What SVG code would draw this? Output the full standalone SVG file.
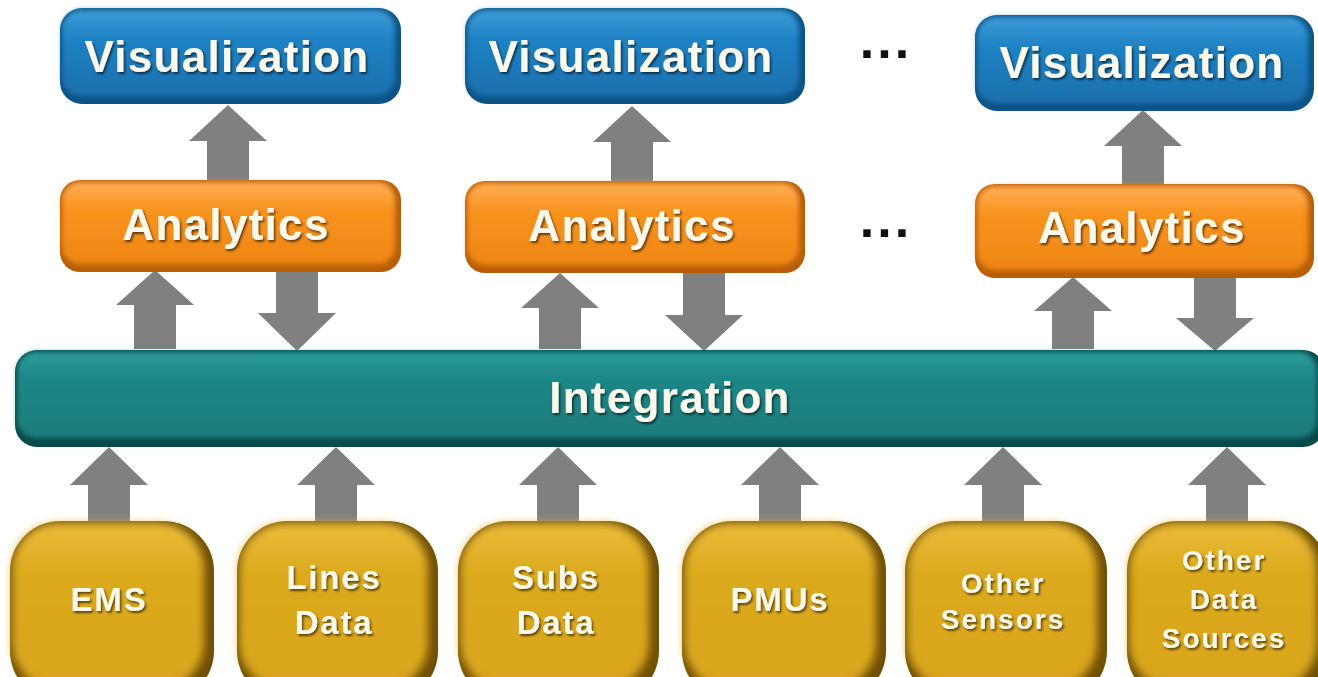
<svg xmlns="http://www.w3.org/2000/svg" width="1318" height="677" viewBox="0 0 1318 677">
  <defs>
    <linearGradient id="gBlue" x1="0" y1="0" x2="0" y2="1">
      <stop offset="0" stop-color="#3c9cd8"/>
      <stop offset="0.35" stop-color="#1f82c4"/>
      <stop offset="1" stop-color="#1a70ad"/>
    </linearGradient>
    <linearGradient id="gOrange" x1="0" y1="0" x2="0" y2="1">
      <stop offset="0" stop-color="#ffad55"/>
      <stop offset="0.35" stop-color="#f8931f"/>
      <stop offset="1" stop-color="#ee8615"/>
    </linearGradient>
    <linearGradient id="gTeal" x1="0" y1="0" x2="0" y2="1">
      <stop offset="0" stop-color="#2c9e9c"/>
      <stop offset="0.3" stop-color="#1e8786"/>
      <stop offset="1" stop-color="#1a7d7c"/>
    </linearGradient>
    <linearGradient id="gGold" x1="0" y1="0" x2="0" y2="1">
      <stop offset="0" stop-color="#ecbd3a"/>
      <stop offset="0.3" stop-color="#dcaa1f"/>
      <stop offset="1" stop-color="#d9a51b"/>
    </linearGradient>
    <filter id="soft" x="-5%" y="-10%" width="110%" height="120%">
      <feGaussianBlur stdDeviation="2.5"/>
    </filter>
    <filter id="softBig" x="-10%" y="-10%" width="120%" height="120%">
      <feGaussianBlur stdDeviation="4"/>
    </filter>
    <filter id="txtShadow" x="-10%" y="-20%" width="120%" height="150%">
      <feDropShadow dx="1.5" dy="2" stdDeviation="1.2" flood-color="#000" flood-opacity="0.6"/>
    </filter>
  </defs>
  <style>
    .arrow { fill: #808080; }
    .label { font-family: "Liberation Sans", Arial, sans-serif; font-weight: bold; fill: #fbf8ec; text-anchor: middle; filter: url(#txtShadow); }
    .big { font-size: 44px; letter-spacing: 1.3px; }
    .small { font-size: 33px; letter-spacing: 1.8px; }
    .tiny { font-size: 28px; letter-spacing: 2px; }
    .dots { font-family: "Liberation Sans", Arial, sans-serif; font-weight: bold; font-size: 52px; letter-spacing: 3px; fill: #111; text-anchor: middle; }
    .blueEdge { fill: #0c5386; }
    .blueFace { fill: url(#gBlue); filter: url(#soft); }
    .orangeEdge { fill: #b95e08; }
    .orangeFace { fill: url(#gOrange); filter: url(#soft); }
    .tealEdge { fill: #084a4a; }
    .tealFace { fill: url(#gTeal); filter: url(#soft); }
    .goldEdge { fill: #6f5006; }
    .goldFace { fill: url(#gGold); filter: url(#softBig); }
  </style>

  <rect width="1318" height="677" fill="#ffffff"/>

  <!-- connectors: block arrows between layers -->
  <g id="connectors">
    <!-- analytics to visualization -->
    <path class="arrow" d="M228,105 L267,141 L249,141 L249,182 L207,182 L207,141 L189,141 Z"/>
    <path class="arrow" d="M632,106 L671,142 L653,142 L653,183 L611,183 L611,142 L593,142 Z"/>
    <path class="arrow" d="M1143,110 L1182,146 L1164,146 L1164,186 L1122,186 L1122,146 L1104,146 Z"/>
    <!-- integration to analytics -->
    <path class="arrow" d="M155,270 L194,305 L176,305 L176,349 L134,349 L134,305 L116,305 Z"/>
    <path class="arrow" d="M560,273 L599,308 L581,308 L581,349 L539,349 L539,308 L521,308 Z"/>
    <path class="arrow" d="M1073,277 L1112,311 L1094,311 L1094,349 L1052,349 L1052,311 L1034,311 Z"/>
    <!-- analytics to integration -->
    <path class="arrow" d="M297,351 L336,313 L318,313 L318,270 L276,270 L276,313 L258,313 Z"/>
    <path class="arrow" d="M704,351 L743,315 L725,315 L725,270 L683,270 L683,315 L665,315 Z"/>
    <path class="arrow" d="M1215,351 L1254,318 L1236,318 L1236,275 L1194,275 L1194,318 L1176,318 Z"/>
    <!-- sources to integration -->
    <path class="arrow" d="M109,447 L148,485 L130,485 L130,524 L88,524 L88,485 L70,485 Z"/>
    <path class="arrow" d="M336,447 L375,485 L357,485 L357,524 L315,524 L315,485 L297,485 Z"/>
    <path class="arrow" d="M558,447 L597,485 L579,485 L579,524 L537,524 L537,485 L519,485 Z"/>
    <path class="arrow" d="M780,447 L819,485 L801,485 L801,524 L759,524 L759,485 L741,485 Z"/>
    <path class="arrow" d="M1003,447 L1042,485 L1024,485 L1024,524 L982,524 L982,485 L964,485 Z"/>
    <path class="arrow" d="M1227,447 L1266,485 L1248,485 L1248,524 L1206,524 L1206,485 L1188,485 Z"/>
  </g>

  <!-- visualization layer -->
  <g id="vis1">
    <rect class="blueEdge" x="60" y="8" width="341" height="96" rx="22"/>
    <rect class="blueFace" x="62" y="10" width="333" height="86" rx="19"/>
    <text class="label big" x="227" y="72">Visualization</text>
  </g>
  <g id="vis2">
    <rect class="blueEdge" x="465" y="8" width="340" height="96" rx="22"/>
    <rect class="blueFace" x="467" y="10" width="332" height="86" rx="19"/>
    <text class="label big" x="631" y="72">Visualization</text>
  </g>
  <g id="vis3">
    <rect class="blueEdge" x="975" y="15" width="339" height="96" rx="22"/>
    <rect class="blueFace" x="977" y="17" width="331" height="86" rx="19"/>
    <text class="label big" x="1142" y="78">Visualization</text>
  </g>
  <g id="dots-top">
    <text class="dots" x="886" y="58">...</text>
  </g>

  <!-- analytics layer -->
  <g id="analytics1">
    <rect class="orangeEdge" x="60" y="180" width="341" height="92" rx="20"/>
    <rect class="orangeFace" x="62" y="182" width="333" height="82" rx="18"/>
    <text class="label big" x="226" y="240">Analytics</text>
  </g>
  <g id="analytics2">
    <rect class="orangeEdge" x="465" y="181" width="340" height="92" rx="20"/>
    <rect class="orangeFace" x="467" y="183" width="332" height="82" rx="18"/>
    <text class="label big" x="632" y="241">Analytics</text>
  </g>
  <g id="analytics3">
    <rect class="orangeEdge" x="975" y="184" width="339" height="94" rx="20"/>
    <rect class="orangeFace" x="977" y="186" width="331" height="84" rx="18"/>
    <text class="label big" x="1142" y="243">Analytics</text>
  </g>
  <g id="dots-mid">
    <text class="dots" x="886" y="237">...</text>
  </g>

  <!-- integration bus -->
  <g id="integration">
    <rect class="tealEdge" x="15" y="350" width="1310" height="97" rx="22"/>
    <rect class="tealFace" x="17" y="352" width="1300" height="86" rx="19"/>
    <text class="label big" x="670" y="413">Integration</text>
  </g>

  <!-- data sources -->
  <g id="ems">
    <rect class="goldEdge" x="10" y="521" width="204" height="180" rx="50"/>
    <rect class="goldFace" x="12" y="523" width="192" height="166" rx="46"/>
    <text class="label small" x="109" y="611">EMS</text>
  </g>
  <g id="lines-data">
    <rect class="goldEdge" x="237" y="521" width="201" height="180" rx="50"/>
    <rect class="goldFace" x="239" y="523" width="189" height="166" rx="46"/>
    <text class="label small" x="334" y="589">Lines</text>
    <text class="label small" x="334" y="634">Data</text>
  </g>
  <g id="subs-data">
    <rect class="goldEdge" x="458" y="521" width="201" height="180" rx="50"/>
    <rect class="goldFace" x="460" y="523" width="189" height="166" rx="46"/>
    <text class="label small" x="556" y="589">Subs</text>
    <text class="label small" x="556" y="634">Data</text>
  </g>
  <g id="pmus">
    <rect class="goldEdge" x="682" y="521" width="204" height="180" rx="50"/>
    <rect class="goldFace" x="684" y="523" width="192" height="166" rx="46"/>
    <text class="label small" x="780" y="611">PMUs</text>
  </g>
  <g id="other-sensors">
    <rect class="goldEdge" x="905" y="521" width="202" height="180" rx="50"/>
    <rect class="goldFace" x="907" y="523" width="190" height="166" rx="46"/>
    <text class="label tiny" x="1003" y="593">Other</text>
    <text class="label tiny" x="1003" y="629">Sensors</text>
  </g>
  <g id="other-data-sources">
    <rect class="goldEdge" x="1127" y="521" width="200" height="180" rx="50"/>
    <rect class="goldFace" x="1129" y="523" width="188" height="166" rx="46"/>
    <text class="label tiny" x="1224" y="570">Other</text>
    <text class="label tiny" x="1224" y="609">Data</text>
    <text class="label tiny" x="1224" y="648">Sources</text>
  </g>
</svg>
